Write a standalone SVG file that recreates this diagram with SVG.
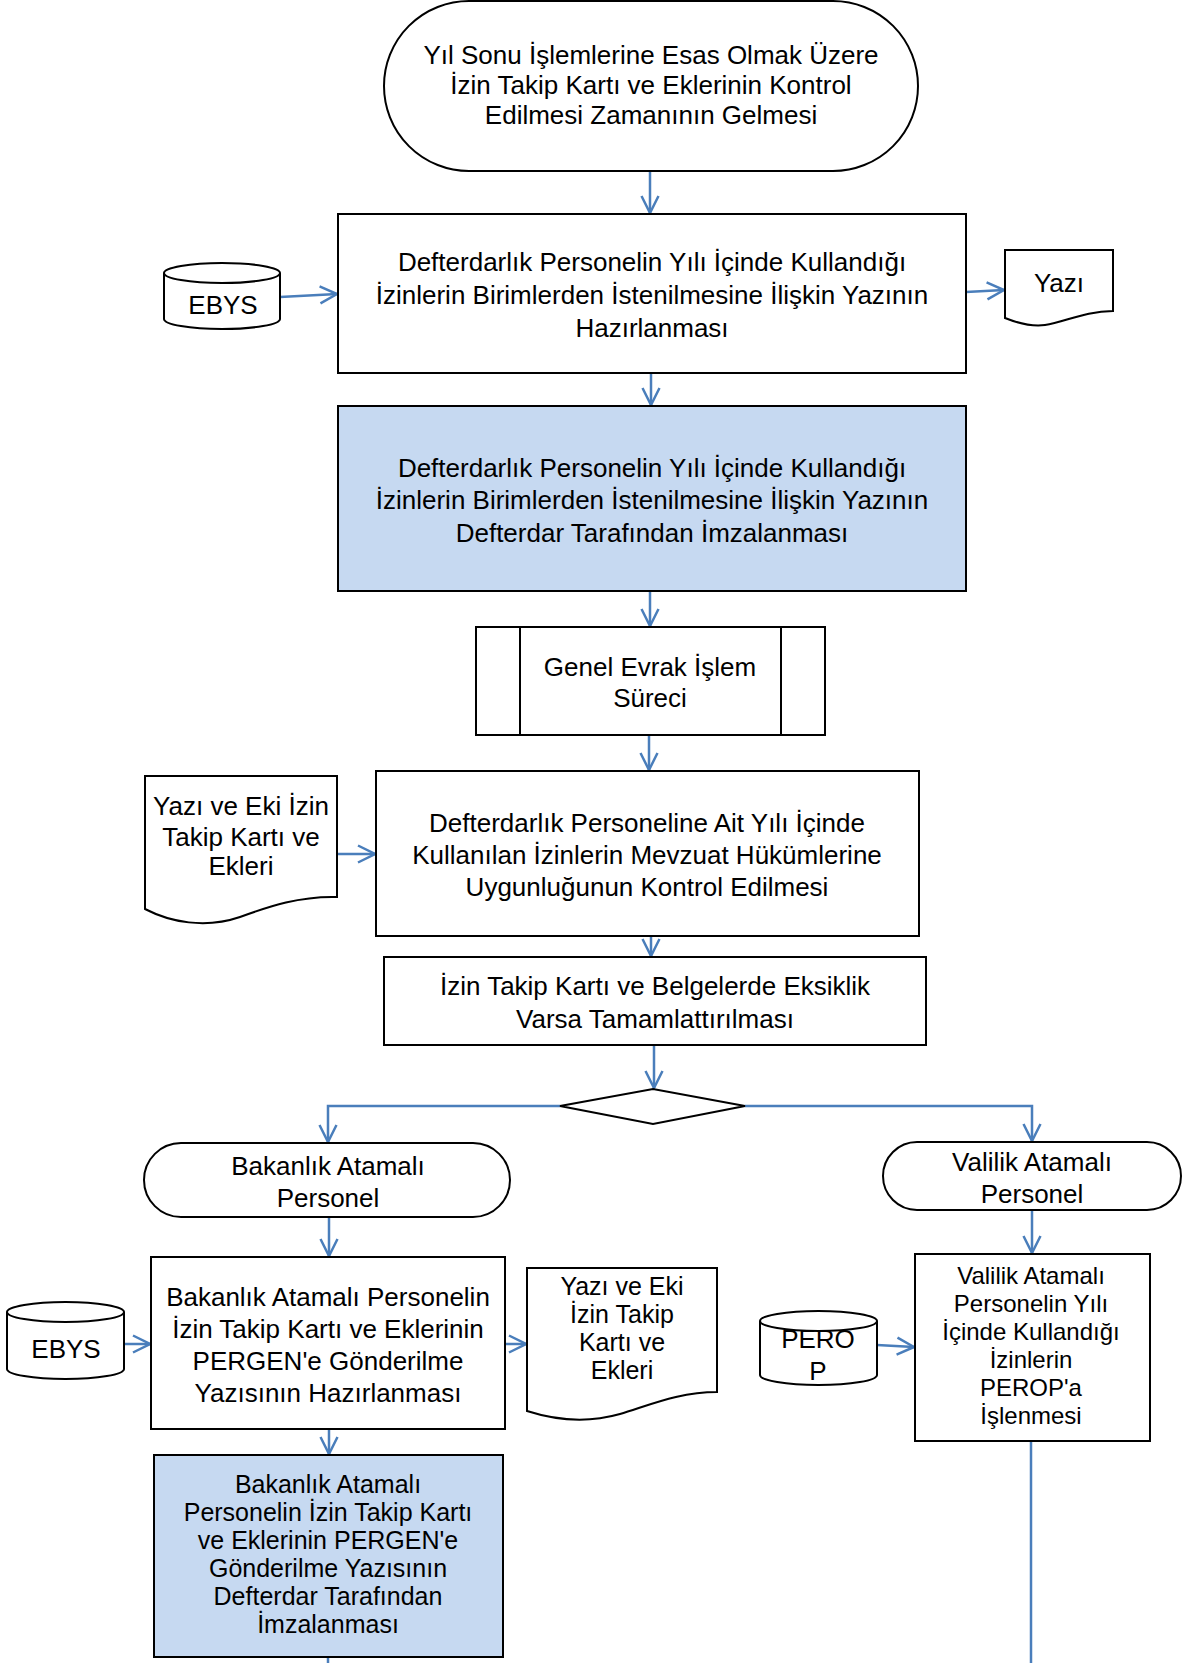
<svg xmlns="http://www.w3.org/2000/svg" width="1182" height="1663" viewBox="0 0 1182 1663">
<defs>
<style>
.n{fill:#fff;stroke:#000;stroke-width:2}
.b{fill:#C6D9F1;stroke:#000;stroke-width:2}
.t{font-family:"Liberation Sans",Arial,sans-serif;font-size:26px;fill:#000;text-anchor:middle}
.s{font-size:24px}
.m{font-size:25px}
.c{fill:none;stroke:#4A7EBB;stroke-width:2.5}
</style>
<marker id="a" markerUnits="userSpaceOnUse" markerWidth="20" markerHeight="20" refX="18" refY="10" orient="auto" viewBox="0 0 20 20">
<path d="M1,1.5 L18,10 L1,18.5" fill="none" stroke="#4A7EBB" stroke-width="2.5"/>
</marker>
</defs>

<g id="connectors">
<path class="c" d="M650,171 V213" marker-end="url(#a)"/>
<path class="c" d="M280,297 L337,294" marker-end="url(#a)"/>
<path class="c" d="M966,292 L1004,290" marker-end="url(#a)"/>
<path class="c" d="M651,373 V405" marker-end="url(#a)"/>
<path class="c" d="M650,591 V626" marker-end="url(#a)"/>
<path class="c" d="M649,735 V770" marker-end="url(#a)"/>
<path class="c" d="M337,854 H375" marker-end="url(#a)"/>
<path class="c" d="M651,936 V956" marker-end="url(#a)"/>
<path class="c" d="M654,1045 V1088" marker-end="url(#a)"/>
<path class="c" d="M560,1106 H328 V1142" marker-end="url(#a)"/>
<path class="c" d="M745,1106 H1032 V1141" marker-end="url(#a)"/>
<path class="c" d="M329,1217 V1256" marker-end="url(#a)"/>
<path class="c" d="M1032,1210 V1253" marker-end="url(#a)"/>
<path class="c" d="M124,1344 H150" marker-end="url(#a)"/>
<path class="c" d="M505,1344 H526" marker-end="url(#a)"/>
<path class="c" d="M877,1345 L914,1347" marker-end="url(#a)"/>
<path class="c" d="M329,1429 V1454" marker-end="url(#a)"/>
<path class="c" d="M1031,1441 V1663"/>
<path class="c" d="M328,1657 V1663"/>
</g>

<g id="start">
<rect class="n" x="384" y="1" width="534" height="170" rx="85" ry="85"/>
<text class="t" x="651" y="64">Yıl Sonu İşlemlerine Esas Olmak Üzere</text>
<text class="t" x="651" y="94">İzin Takip Kartı ve Eklerinin Kontrol</text>
<text class="t" x="651" y="124">Edilmesi Zamanının Gelmesi</text>
</g>

<g id="ebys1">
<path class="n" d="M164,273 A58,10 0 0 1 280,273 V319 A58,10 0 0 1 164,319 Z"/>
<path class="n" d="M164,273 A58,10 0 0 0 280,273"/>
<text class="t" x="223" y="314">EBYS</text>
</g>

<g id="box1">
<rect class="n" x="338" y="214" width="628" height="159"/>
<text class="t" x="652" y="271">Defterdarlık Personelin Yılı İçinde Kullandığı</text>
<text class="t" x="652" y="304">İzinlerin Birimlerden İstenilmesine İlişkin Yazının</text>
<text class="t" x="652" y="337">Hazırlanması</text>
</g>

<g id="yazi1">
<path class="n" d="M1005,250 H1113 V311 C1085,311 1065,322 1045,325 C1030,327 1015,322 1005,318 Z"/>
<text class="t" x="1059" y="292">Yazı</text>
</g>

<g id="box2">
<rect class="b" x="338" y="406" width="628" height="185"/>
<text class="t" x="652" y="477">Defterdarlık Personelin Yılı İçinde Kullandığı</text>
<text class="t" x="652" y="509">İzinlerin Birimlerden İstenilmesine İlişkin Yazının</text>
<text class="t" x="652" y="542">Defterdar Tarafından İmzalanması</text>
</g>

<g id="genel">
<rect class="n" x="476" y="627" width="349" height="108"/>
<path class="n" d="M520,627 V735 M781,627 V735"/>
<text class="t" x="650" y="676">Genel Evrak İşlem</text>
<text class="t" x="650" y="707">Süreci</text>
</g>

<g id="doc1">
<path class="n" d="M145,776 H337 V897 C300,896 270,906 240,917 C205,929 170,922 145,909 Z"/>
<text class="t" x="241" y="815">Yazı ve Eki İzin</text>
<text class="t" x="241" y="846">Takip Kartı ve</text>
<text class="t" x="241" y="875">Ekleri</text>
</g>

<g id="box3">
<rect class="n" x="376" y="771" width="543" height="165"/>
<text class="t" x="647" y="832">Defterdarlık Personeline Ait Yılı İçinde</text>
<text class="t" x="647" y="864">Kullanılan İzinlerin Mevzuat Hükümlerine</text>
<text class="t" x="647" y="896">Uygunluğunun Kontrol Edilmesi</text>
</g>

<g id="box4">
<rect class="n" x="384" y="957" width="542" height="88"/>
<text class="t" x="655" y="995">İzin Takip Kartı ve Belgelerde Eksiklik</text>
<text class="t" x="655" y="1028">Varsa Tamamlattırılması</text>
</g>

<g id="decision">
<path class="n" d="M560,1106 L653,1089 L745,1106 L653,1124 Z"/>
</g>

<g id="bakanlik">
<rect class="n" x="144" y="1143" width="366" height="74" rx="37" ry="37"/>
<text class="t" x="328" y="1175">Bakanlık Atamalı</text>
<text class="t" x="328" y="1207">Personel</text>
</g>

<g id="valilik">
<rect class="n" x="883" y="1142" width="298" height="68" rx="34" ry="34"/>
<text class="t" x="1032" y="1171">Valilik Atamalı</text>
<text class="t" x="1032" y="1203">Personel</text>
</g>

<g id="ebys2">
<path class="n" d="M7,1312 A58.5,10 0 0 1 124,1312 V1369 A58.5,10 0 0 1 7,1369 Z"/>
<path class="n" d="M7,1312 A58.5,10 0 0 0 124,1312"/>
<text class="t" x="66" y="1358">EBYS</text>
</g>

<g id="box5">
<rect class="n" x="151" y="1257" width="354" height="172"/>
<text class="t" x="328" y="1306">Bakanlık Atamalı Personelin</text>
<text class="t" x="328" y="1338">İzin Takip Kartı ve Eklerinin</text>
<text class="t" x="328" y="1370">PERGEN'e Gönderilme</text>
<text class="t" x="328" y="1402">Yazısının Hazırlanması</text>
</g>

<g id="doc2">
<path class="n" d="M527,1268 H717 V1392 C680,1392 650,1405 620,1414 C585,1424 555,1420 527,1411 Z"/>
<text class="t m" x="622" y="1295">Yazı ve Eki</text>
<text class="t m" x="622" y="1323">İzin Takip</text>
<text class="t m" x="622" y="1351">Kartı ve</text>
<text class="t m" x="622" y="1379">Ekleri</text>
</g>

<g id="perop">
<path class="n" d="M760,1321 A58.5,10 0 0 1 877,1321 V1375 A58.5,10 0 0 1 760,1375 Z"/>
<path class="n" d="M760,1321 A58.5,10 0 0 0 877,1321"/>
<text class="t" x="818" y="1348">PERO</text>
<text class="t" x="818" y="1380">P</text>
</g>

<g id="box6">
<rect class="n" x="915" y="1254" width="235" height="187"/>
<text class="t s" x="1031" y="1284">Valilik Atamalı</text>
<text class="t s" x="1031" y="1312">Personelin Yılı</text>
<text class="t s" x="1031" y="1340">İçinde Kullandığı</text>
<text class="t s" x="1031" y="1368">İzinlerin</text>
<text class="t s" x="1031" y="1396">PEROP'a</text>
<text class="t s" x="1031" y="1424">İşlenmesi</text>
</g>

<g id="box7">
<rect class="b" x="154" y="1455" width="349" height="202"/>
<text class="t m" x="328" y="1493">Bakanlık Atamalı</text>
<text class="t m" x="328" y="1521">Personelin İzin Takip Kartı</text>
<text class="t m" x="328" y="1549">ve Eklerinin PERGEN'e</text>
<text class="t m" x="328" y="1577">Gönderilme Yazısının</text>
<text class="t m" x="328" y="1605">Defterdar Tarafından</text>
<text class="t m" x="328" y="1633">İmzalanması</text>
</g>
</svg>
